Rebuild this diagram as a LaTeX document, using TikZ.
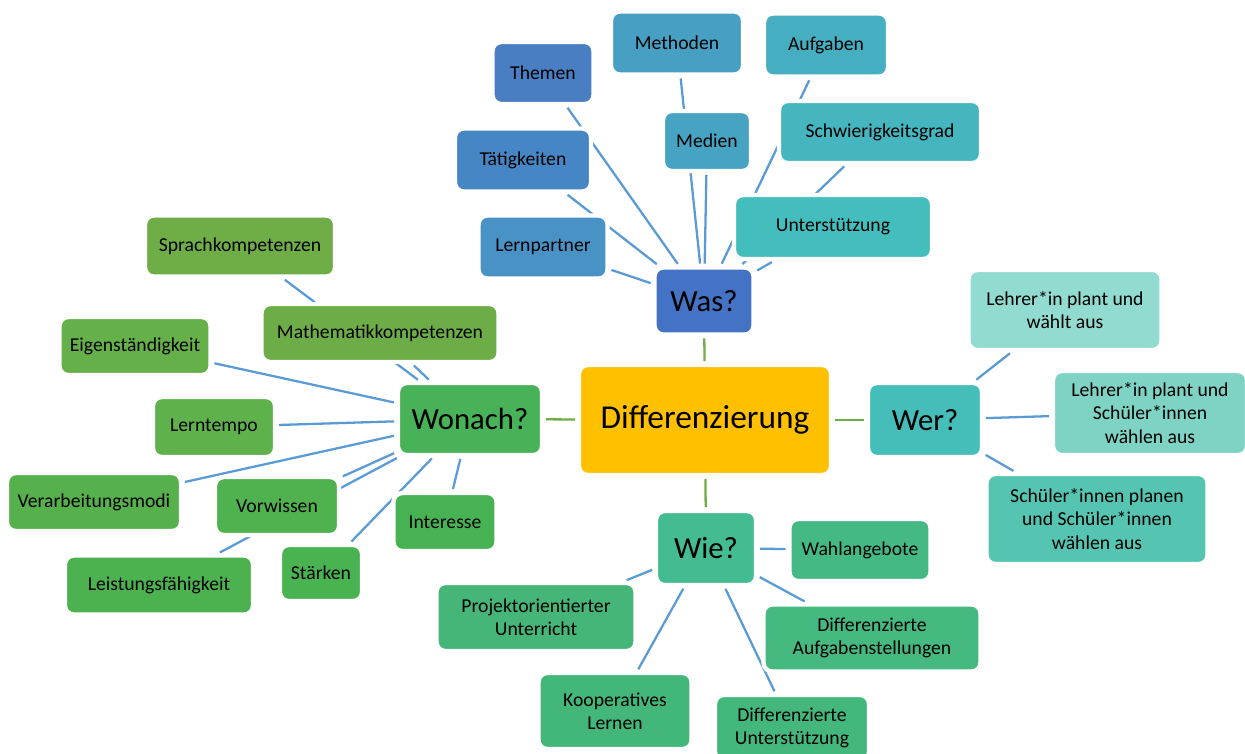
\documentclass[tikz,border=0pt]{standalone}
\usepackage{fontspec}
\setmainfont{Carlito}
\usetikzlibrary{backgrounds}

\definecolor{linkblue}{HTML}{5B9BD5}
\definecolor{stemgreen}{HTML}{70AD47}
\definecolor{diffyellow}{HTML}{FFC000}
\definecolor{wasblue}{HTML}{4472C4}
\definecolor{werteal}{HTML}{45BDB8}
\definecolor{wiegreen}{HTML}{43BC91}
\definecolor{wonachgreen}{HTML}{47B258}

\begin{document}
\begin{tikzpicture}[x=0.02cm, y=-0.02cm,
    box/.style={rectangle, rounded corners=5pt, draw=white, line width=2.5pt,
        align=center, inner sep=0pt, text=black,
        font=\fontsize{11.2}{13.2}\selectfont},
    boxsize/.style 2 args={minimum width=(#1+4)*0.02cm, minimum height=(#2+4)*0.02cm},
    question/.style={box, font=\fontsize{17.5}{20}\selectfont},
    link/.style={draw=linkblue, line width=1.3pt, shorten <=1pt, shorten >=1pt},
    stem/.style={draw=stemgreen, line width=1.3pt, shorten <=1pt, shorten >=1pt}]
    \useasboundingbox (0,0) rectangle (1245,754);

    % centre
    \node[box, boxsize={248}{106}, fill=diffyellow, font=\fontsize{19}{22}\selectfont] (diff) at (705,420) {Differenzierung};

    % Was?
    \node[question, boxsize={95}{63}, fill=wasblue] (was) at (704,301) {Was?};
    \node[box, boxsize={97}{58}, fill={rgb,255:red,74;green,126;blue,195}] (themen) at (543,73) {Themen};
    \node[box, boxsize={128}{59}, fill={rgb,255:red,71;green,159;blue,195}] (methoden) at (677,43) {Methoden};
    \node[box, boxsize={120}{59}, fill={rgb,255:red,69;green,174;blue,193}] (aufgaben) at (826,45) {Aufgaben};
    \node[box, boxsize={132}{59}, fill={rgb,255:red,70;green,134;blue,196}] (taetigkeiten) at (523,160) {Tätigkeiten};
    \node[box, boxsize={84}{56}, fill={rgb,255:red,71;green,163;blue,194}] (medien) at (707,141) {Medien};
    \node[box, boxsize={198}{58}, fill={rgb,255:red,69;green,182;blue,192}] (schwierigkeit) at (880,132) {Schwierigkeitsgrad};
    \node[box, boxsize={125}{59}, fill={rgb,255:red,72;green,146;blue,198}] (lernpartner) at (543,247) {Lernpartner};
    \node[box, boxsize={194}{60}, fill={rgb,255:red,67;green,190;blue,189}] (unterstuetzung) at (833,227) {Unterstützung};

    % Wer?
    \node[question, boxsize={110}{70}, fill=werteal] (wer) at (925,420) {Wer?};
    \node[box, boxsize={189}{76}, fill={rgb,255:red,146;green,219;blue,208}] (lehrerwaehlt) at (1065,310) {Lehrer*in plant und\\wählt aus};
    \node[box, boxsize={190}{80}, fill={rgb,255:red,126;green,211;blue,196}] (schuelerwaehlen) at (1150,413) {Lehrer*in plant und\\Schüler*innen\\wählen aus};
    \node[box, boxsize={217}{86}, fill={rgb,255:red,85;green,197;blue,177}] (schuelerplanen) at (1097,519) {Schüler*innen planen\\und Schüler*innen\\wählen aus};

    % Wie?
    \node[question, boxsize={96}{70}, fill=wiegreen] (wie) at (706,548) {Wie?};
    \node[box, boxsize={137}{58}, fill={rgb,255:red,69;green,185;blue,132}] (wahlangebote) at (860,550) {Wahlangebote};
    \node[box, boxsize={213}{63}, fill={rgb,255:red,69;green,185;blue,128}] (diffaufgaben) at (872,638) {Differenzierte\\Aufgabenstellungen};
    \node[box, boxsize={150}{62}, fill={rgb,255:red,68;green,184;blue,124}] (diffunterstuetzung) at (792,728) {Differenzierte\\Unterstützung};
    \node[box, boxsize={149}{72}, fill={rgb,255:red,67;green,183;blue,122}] (kooperativ) at (615,711) {Kooperatives\\Lernen};
    \node[box, boxsize={195}{64}, fill={rgb,255:red,69;green,182;blue,119}] (projekt) at (536,617) {Projektorientierter\\Unterricht};

    % Wonach?
    \node[question, boxsize={140}{68}, fill=wonachgreen] (wonach) at (470,419) {Wonach?};
    \node[box, boxsize={186}{57}, fill={rgb,255:red,111;green,173;blue,71}] (sprache) at (240,246) {Sprachkompetenzen};
    \node[box, boxsize={233}{54}, fill={rgb,255:red,108;green,173;blue,71}] (mathe) at (380,333) {Mathematikkompetenzen};
    \node[box, boxsize={147}{54}, fill={rgb,255:red,101;green,176;blue,73}] (eigen) at (135,346) {Eigenständigkeit};
    \node[box, boxsize={118}{56}, fill={rgb,255:red,94;green,177;blue,75}] (lerntempo) at (214,427) {Lerntempo};
    \node[box, boxsize={170}{54}, fill={rgb,255:red,86;green,176;blue,76}] (verarbeitung) at (94,502) {Verarbeitungsmodi};
    \node[box, boxsize={120}{54}, fill={rgb,255:red,80;green,178;blue,78}] (vorwissen) at (277,506) {Vorwissen};
    \node[box, boxsize={184}{55}, fill={rgb,255:red,76;green,177;blue,79}] (leistung) at (159,585) {Leistungsfähigkeit};
    \node[box, boxsize={78}{52}, fill={rgb,255:red,73;green,178;blue,81}] (staerken) at (321,573) {Stärken};
    \node[box, boxsize={99}{54}, fill={rgb,255:red,71;green,178;blue,84}] (interesse) at (445,522) {Interesse};

    \begin{pgfonlayer}{background}
    \draw[stem] (diff) -- (was);
    \draw[stem] (diff) -- (wer);
    \draw[stem] (diff) -- (wie);
    \draw[stem] (diff) -- (wonach);

    \draw[link] (was) -- (themen);
    \draw[link] (was) -- (methoden);
    \draw[link] (was) -- (aufgaben);
    \draw[link] (was) -- (taetigkeiten);
    \draw[link] (was) -- (medien);
    \draw[link] (was) -- (schwierigkeit);
    \draw[link] (was) -- (lernpartner);
    \draw[link] (was) -- (unterstuetzung);

    \draw[link] (wer) -- (lehrerwaehlt);
    \draw[link] (wer) -- (schuelerwaehlen);
    \draw[link] (wer) -- (schuelerplanen);

    \draw[link] (wie) -- (wahlangebote);
    \draw[link] (wie) -- (diffaufgaben);
    \draw[link] (wie) -- (diffunterstuetzung);
    \draw[link] (wie) -- (kooperativ);
    \draw[link] (wie) -- (projekt);

    \draw[link] (wonach) -- (sprache);
    \draw[link] (wonach) -- (mathe);
    \draw[link] (wonach) -- (eigen);
    \draw[link] (wonach) -- (lerntempo);
    \draw[link] (wonach) -- (verarbeitung);
    \draw[link] (wonach) -- (vorwissen);
    \draw[link] (wonach) -- (leistung);
    \draw[link] (wonach) -- (staerken);
    \draw[link] (wonach) -- (interesse);
    \end{pgfonlayer}
\end{tikzpicture}
\end{document}
